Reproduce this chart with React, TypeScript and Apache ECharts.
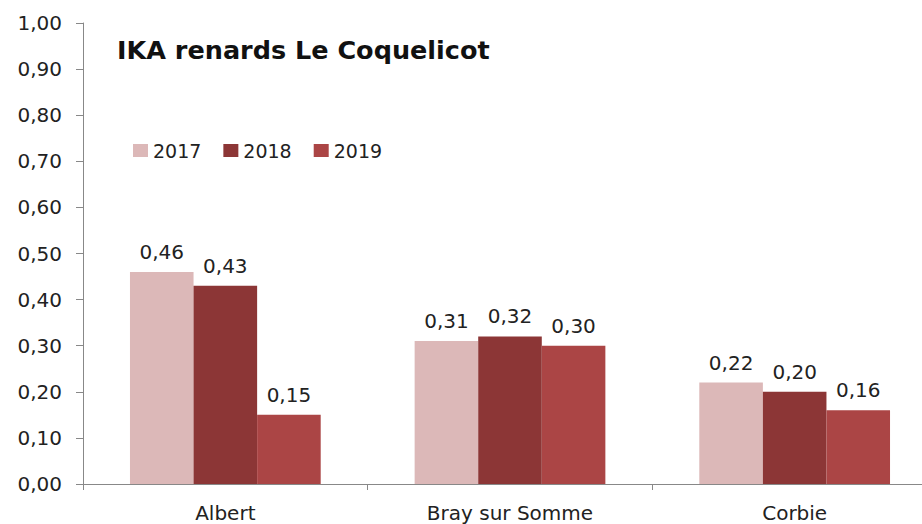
import React, { useEffect, useRef } from "react";
import * as echarts from "echarts";

const categories = ["Albert", "Bray sur Somme", "Corbie"];
const years = ["2017", "2018", "2019"];
const values2017 = [0.46, 0.31, 0.22];
const values2018 = [0.43, 0.32, 0.2];
const values2019 = [0.15, 0.3, 0.16];
const colors = ["#dcb8b8", "#8c3636", "#ab4545"];
const titleText = "IKA renards Le Coquelicot";

const FONT = "'DejaVu Sans', Verdana, sans-serif";
const fmt = (v: number) => v.toFixed(2).replace(".", ",");

export default function App() {
  const ref = useRef<HTMLDivElement>(null);
  useEffect(() => {
    if (!ref.current) return;
    const chart = echarts.init(ref.current, undefined, { renderer: "svg" });
    const seriesData = [values2017, values2018, values2019];
    chart.setOption({
      animation: false,
      backgroundColor: "#ffffff",
      textStyle: { fontFamily: FONT },
      title: {
        text: titleText,
        left: 112,
        top: 32,
        textStyle: { fontFamily: FONT, fontSize: 25.5, fontWeight: "bold", color: "#111" },
      },
      legend: {
        data: years,
        left: 128,
        top: 136,
        itemWidth: 15,
        itemHeight: 13,
        itemGap: 22,
        icon: "rect",
        textStyle: { fontFamily: FONT, fontSize: 19, color: "#222" },
      },
      grid: { left: 83, top: 23, bottom: 40, right: 0, containLabel: false },
      xAxis: {
        type: "category",
        data: categories,
        axisLine: { lineStyle: { color: "#888", width: 1 } },
        axisTick: { show: true, alignWithLabel: false, length: 6, lineStyle: { color: "#888" } },
        axisLabel: { fontFamily: FONT, fontSize: 20, lineHeight: 20, color: "#222", margin: 19 },
      },
      yAxis: {
        type: "value",
        min: 0,
        max: 1,
        interval: 0.1,
        splitLine: { show: false },
        axisLine: { show: true, lineStyle: { color: "#888", width: 1 } },
        axisTick: { show: true, length: 7, lineStyle: { color: "#888" } },
        axisLabel: {
          fontFamily: FONT,
          fontSize: 20,
          color: "#222",
          margin: 21,
          formatter: (v: number) => fmt(v),
        },
      },
      series: years.map((y, i) => ({
        name: y,
        type: "bar",
        data: seriesData[i],
        barGap: "0%",
        barCategoryGap: "33%",
        itemStyle: { color: colors[i] },
        label: {
          show: true,
          position: "top",
          distance: 10,
          fontFamily: FONT,
          fontSize: 20,
          color: "#222",
          formatter: (p: any) => fmt(p.value),
        },
      })),
    });
    return () => chart.dispose();
  }, []);
  return (
    <div
      style={{
        position: "fixed",
        left: 0,
        top: 0,
        width: 922,
        height: 524,
        overflow: "hidden",
        background: "#fff",
      }}
    >
      <div ref={ref} style={{ width: 937, height: 524 }} />
    </div>
  );
}
